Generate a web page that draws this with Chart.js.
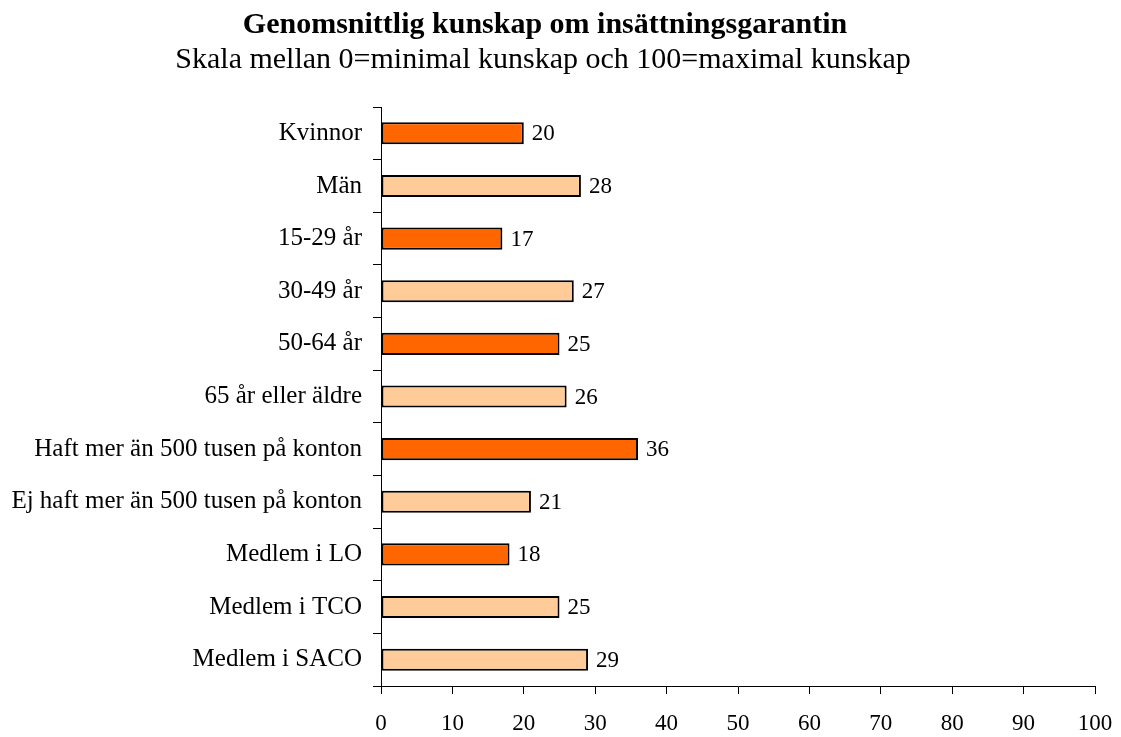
<!DOCTYPE html>
<html>
<head>
<meta charset="utf-8">
<script src="https://cdn.jsdelivr.net/npm/chart.js@4/dist/chart.umd.min.js"></script>
<style>
body { margin: 0; background: #fff; }
canvas { display: block; }
</style>
</head>
<body>
<canvas id="chart" width="1121" height="737"></canvas>
<script>
var categories = ['Kvinnor', 'Män', '15-29 år', '30-49 år', '50-64 år', '65 år eller äldre',
	'Haft mer än 500 tusen på konton', 'Ej haft mer än 500 tusen på konton',
	'Medlem i LO', 'Medlem i TCO', 'Medlem i SACO'];
var values = [20, 28, 17, 27, 25, 26, 36, 21, 18, 25, 29];
var xTicks = [0, 10, 20, 30, 40, 50, 60, 70, 80, 90, 100];

var DARK = '#FF6600';
var LIGHT = '#FFCC99';
var barColors = [DARK, LIGHT, DARK, LIGHT, DARK, LIGHT, DARK, LIGHT, DARK, LIGHT, LIGHT];
var FONT = "'Liberation Serif', 'Times New Roman', serif";

// titles drawn by hand so they can sit off-centre like the original
var titlePlugin = {
	id: 'titles',
	afterDraw: function (chart) {
		var ctx = chart.ctx;
		ctx.save();
		ctx.fillStyle = '#000';
		ctx.textAlign = 'center';
		ctx.textBaseline = 'alphabetic';
		ctx.font = 'bold 30px ' + FONT;
		ctx.fillText('Genomsnittlig kunskap om insättningsgarantin', 545, 33);
		ctx.font = '30px ' + FONT;
		ctx.fillText('Skala mellan 0=minimal kunskap och 100=maximal kunskap', 543, 68);
		ctx.restore();
	}
};

var valueLabels = {
	id: 'valueLabels',
	afterDatasetsDraw: function (chart) {
		var ctx = chart.ctx;
		var meta = chart.getDatasetMeta(0);
		ctx.save();
		ctx.fillStyle = '#000';
		ctx.font = '23px ' + FONT;
		ctx.textAlign = 'left';
		ctx.textBaseline = 'middle';
		meta.data.forEach(function (bar, i) {
			ctx.fillText(values[i], bar.x + 8, bar.y + 1);
		});
		ctx.restore();
	}
};

new Chart(document.getElementById('chart'), {
	type: 'bar',
	data: {
		labels: categories,
		datasets: [{
			data: values,
			backgroundColor: barColors,
			borderColor: '#000',
			borderWidth: 2,
			borderSkipped: false,
			barPercentage: 0.42,
			categoryPercentage: 1.0
		}]
	},
	options: {
		indexAxis: 'y',
		responsive: false,
		animation: false,
		layout: { padding: { top: 107, right: 26, left: 0, bottom: 0 } },
		plugins: {
			legend: { display: false },
			tooltip: { enabled: false }
		},
		scales: {
			x: {
				min: 0,
				max: 100,
				afterBuildTicks: function (axis) {
					axis.ticks = xTicks.map(function (v) { return { value: v }; });
				},
				afterFit: function (axis) {
					axis.height = 51;
					axis.paddingRight = 0;
					axis.paddingLeft = 0;
				},
				grid: { drawOnChartArea: false, tickLength: 8, color: '#000' },
				border: { color: '#000', width: 1 },
				ticks: { color: '#000', padding: 16, maxRotation: 0, font: { family: FONT, size: 23 } }
			},
			y: {
				afterFit: function (axis) { axis.width = 381; },
				grid: { drawOnChartArea: false, offset: true, tickLength: 8, color: '#000' },
				border: { color: '#000', width: 1 },
				ticks: { color: '#000', padding: 11, font: { family: FONT, size: 25 } }
			}
		}
	},
	plugins: [titlePlugin, valueLabels]
});
</script>
</body>
</html>
